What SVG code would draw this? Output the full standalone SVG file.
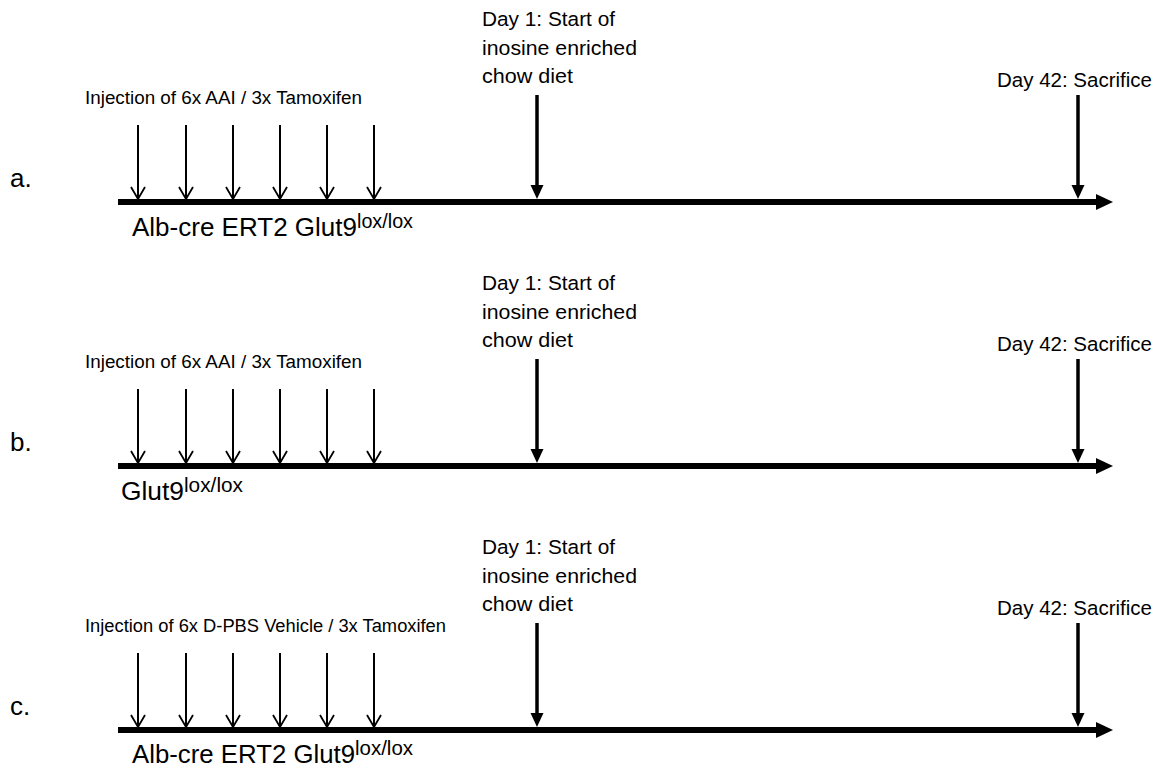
<svg xmlns="http://www.w3.org/2000/svg" width="1161" height="767" viewBox="0 0 1161 767">
<defs>
<marker id="vhead" viewBox="0 0 16 16" refX="13" refY="8" markerWidth="16" markerHeight="16" markerUnits="userSpaceOnUse" orient="auto">
<path d="M1,1 L13,8 L1,15" fill="none" stroke="#000" stroke-width="1.8"/>
</marker>
</defs>
<style>
text{font-family:"Liberation Sans",Arial,sans-serif;fill:#000}
.lbl{font-size:26px}
.day{font-size:20.5px}
.inj{font-size:18px}
.geno{font-size:26px}
.sup{font-size:20px}
.thin{stroke:#000;stroke-width:2}
.thick{stroke:#000;stroke-width:3.5}
.axis{stroke:#000;stroke-width:6}
.head{fill:#000}
</style>
<rect width="1161" height="767" fill="#fff"/>

<g id="panel-a">
<text class="lbl" x="10" y="187">a.</text>
<text class="inj" x="85" y="104" textLength="277" lengthAdjust="spacingAndGlyphs">Injection of 6x AAI / 3x Tamoxifen</text>
<text class="day" x="482" y="26" textLength="133" lengthAdjust="spacingAndGlyphs">Day 1: Start of</text>
<text class="day" x="482" y="55" textLength="155" lengthAdjust="spacingAndGlyphs">inosine enriched</text>
<text class="day" x="482" y="83" textLength="91" lengthAdjust="spacingAndGlyphs">chow diet</text>
<text class="day" x="997" y="87" textLength="155" lengthAdjust="spacingAndGlyphs">Day 42: Sacrifice</text>
<text class="geno" x="132" y="236"><tspan textLength="225" lengthAdjust="spacingAndGlyphs">Alb-cre ERT2 Glut9</tspan><tspan class="sup" dy="-8" textLength="56" lengthAdjust="spacingAndGlyphs">lox/lox</tspan></text>
</g>

<g id="panel-b">
<text class="lbl" x="10" y="451">b.</text>
<text class="inj" x="85" y="368" textLength="277" lengthAdjust="spacingAndGlyphs">Injection of 6x AAI / 3x Tamoxifen</text>
<text class="day" x="482" y="290" textLength="133" lengthAdjust="spacingAndGlyphs">Day 1: Start of</text>
<text class="day" x="482" y="319" textLength="155" lengthAdjust="spacingAndGlyphs">inosine enriched</text>
<text class="day" x="482" y="347" textLength="91" lengthAdjust="spacingAndGlyphs">chow diet</text>
<text class="day" x="997" y="351" textLength="155" lengthAdjust="spacingAndGlyphs">Day 42: Sacrifice</text>
<text class="geno" x="121" y="500"><tspan textLength="63" lengthAdjust="spacingAndGlyphs">Glut9</tspan><tspan class="sup" dy="-8" textLength="59" lengthAdjust="spacingAndGlyphs">lox/lox</tspan></text>
</g>

<g id="panel-c">
<text class="lbl" x="10" y="715">c.</text>
<text class="inj" x="85" y="632" textLength="361" lengthAdjust="spacingAndGlyphs">Injection of 6x D-PBS Vehicle / 3x Tamoxifen</text>
<text class="day" x="482" y="554" textLength="133" lengthAdjust="spacingAndGlyphs">Day 1: Start of</text>
<text class="day" x="482" y="583" textLength="155" lengthAdjust="spacingAndGlyphs">inosine enriched</text>
<text class="day" x="482" y="611" textLength="91" lengthAdjust="spacingAndGlyphs">chow diet</text>
<text class="day" x="997" y="615" textLength="155" lengthAdjust="spacingAndGlyphs">Day 42: Sacrifice</text>
<text class="geno" x="132" y="763"><tspan textLength="223" lengthAdjust="spacingAndGlyphs">Alb-cre ERT2 Glut9</tspan><tspan class="sup" dy="-8" textLength="58" lengthAdjust="spacingAndGlyphs">lox/lox</tspan></text>
</g>

<g id="connectors">
<g id="axes">
<line class="axis" x1="118" y1="202" x2="1098" y2="202"/>
<path class="head" d="M1096,194 L1113,202 L1096,210 Z"/>
<line class="axis" x1="118" y1="466" x2="1098" y2="466"/>
<path class="head" d="M1096,458 L1113,466 L1096,474 Z"/>
<line class="axis" x1="118" y1="730" x2="1098" y2="730"/>
<path class="head" d="M1096,722 L1113,730 L1096,738 Z"/>
</g>
<g id="injections">
<line class="thin" x1="138" y1="125" x2="138" y2="199" marker-end="url(#vhead)"/>
<line class="thin" x1="186" y1="125" x2="186" y2="199" marker-end="url(#vhead)"/>
<line class="thin" x1="233" y1="125" x2="233" y2="199" marker-end="url(#vhead)"/>
<line class="thin" x1="280" y1="125" x2="280" y2="199" marker-end="url(#vhead)"/>
<line class="thin" x1="327" y1="125" x2="327" y2="199" marker-end="url(#vhead)"/>
<line class="thin" x1="374" y1="125" x2="374" y2="199" marker-end="url(#vhead)"/>
<line class="thin" x1="138" y1="389" x2="138" y2="463" marker-end="url(#vhead)"/>
<line class="thin" x1="186" y1="389" x2="186" y2="463" marker-end="url(#vhead)"/>
<line class="thin" x1="233" y1="389" x2="233" y2="463" marker-end="url(#vhead)"/>
<line class="thin" x1="280" y1="389" x2="280" y2="463" marker-end="url(#vhead)"/>
<line class="thin" x1="327" y1="389" x2="327" y2="463" marker-end="url(#vhead)"/>
<line class="thin" x1="374" y1="389" x2="374" y2="463" marker-end="url(#vhead)"/>
<line class="thin" x1="138" y1="653" x2="138" y2="727" marker-end="url(#vhead)"/>
<line class="thin" x1="186" y1="653" x2="186" y2="727" marker-end="url(#vhead)"/>
<line class="thin" x1="233" y1="653" x2="233" y2="727" marker-end="url(#vhead)"/>
<line class="thin" x1="280" y1="653" x2="280" y2="727" marker-end="url(#vhead)"/>
<line class="thin" x1="327" y1="653" x2="327" y2="727" marker-end="url(#vhead)"/>
<line class="thin" x1="374" y1="653" x2="374" y2="727" marker-end="url(#vhead)"/>
</g>
<g id="events">
<line class="thick" x1="537" y1="95" x2="537" y2="186"/>
<path class="head" d="M530.5,185 L543.5,185 L537,199 Z"/>
<line class="thick" x1="1078" y1="95" x2="1078" y2="186"/>
<path class="head" d="M1071.5,185 L1084.5,185 L1078,199 Z"/>
<line class="thick" x1="537" y1="359" x2="537" y2="450"/>
<path class="head" d="M530.5,449 L543.5,449 L537,463 Z"/>
<line class="thick" x1="1078" y1="359" x2="1078" y2="450"/>
<path class="head" d="M1071.5,449 L1084.5,449 L1078,463 Z"/>
<line class="thick" x1="537" y1="623" x2="537" y2="714"/>
<path class="head" d="M530.5,713 L543.5,713 L537,727 Z"/>
<line class="thick" x1="1078" y1="623" x2="1078" y2="714"/>
<path class="head" d="M1071.5,713 L1084.5,713 L1078,727 Z"/>
</g>
</g>
</svg>
